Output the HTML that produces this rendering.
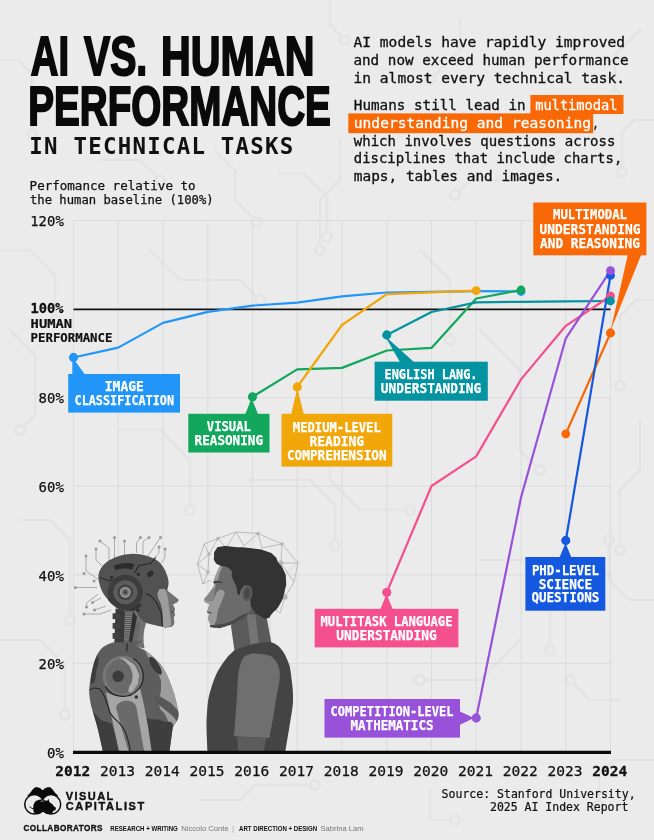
<!DOCTYPE html>
<html lang="en"><head><meta charset="utf-8"><title>AI vs. Human Performance in Technical Tasks</title>
<style>
html,body{margin:0;padding:0;background:#ebebeb;}
body{width:654px;height:840px;overflow:hidden;}
svg{display:block;}
.mono{font-family:"DejaVu Sans Mono","Liberation Mono",monospace;}
.sans{font-family:"Liberation Sans","DejaVu Sans",sans-serif;}
.lab{font-family:"DejaVu Sans Mono","Liberation Mono",monospace;font-weight:bold;fill:#fff;stroke:#fff;stroke-width:0.25px;text-anchor:middle;}
</style></head><body>
<svg width="654" height="840" viewBox="0 0 654 840">
<rect width="654" height="840" fill="#ebebeb"/>

<g id="bg-circuits" stroke="#e4e4e4" stroke-width="2.6" fill="none" stroke-linecap="round" stroke-linejoin="round">
<path d="M278,174 L304,174 L327,197 L327,237"/>
<path d="M215,150 L235,170 L235,200 L257,222"/>
<path d="M340,140 L340,180 L320,200 L320,250"/>
<path d="M0,60 L18,60 L32,74 L32,134"/>
<path d="M0,250 L30,250 L55,275 L55,320"/>
<path d="M10,330 L35,355 L35,415 L20,430"/>
<path d="M654,120 L634,120 L622,132 L622,172"/>
<path d="M654,300 L636,300 L620,316 L620,386"/>
<path d="M640,420 L640,470 L620,490 L620,550"/>
<path d="M654,600 L629,600 L609,580 L609,540"/>
<path d="M620,700 L590,700 L570,680"/>
<path d="M654,760 L614,760 L599,775 L599,805"/>
<path d="M430,790 L430,820 L455,820"/>
<path d="M200,800 L240,800 L255,785 L315,785"/>
<path d="M150,250 L180,280 L240,280 L260,300"/>
<path d="M120,430 L160,430 L190,460 L190,510"/>
<path d="M20,520 L50,520 L70,540 L70,620"/>
<path d="M0,640 L40,640 L65,665 L65,715"/>
<path d="M330,420 L330,480 L360,510 L410,510"/>
<path d="M420,250 L450,280 L450,340"/>
<path d="M480,330 L520,370 L520,450 L540,470"/>
<path d="M250,480 L310,480 L335,505 L335,545"/>
<path d="M300,560 L270,590 L270,650 L290,670"/>
<path d="M480,560 L530,560 L550,580 L550,650"/>
<path d="M520,640 L480,680 L420,680"/>
<path d="M560,150 L530,180 L470,180 L455,195"/>
<path d="M460,20 L460,50 L430,80"/>
<path d="M640,30 L615,55 L615,95"/>
<path d="M330,0 L330,25 L345,40"/>
<path d="M100,160 L140,160 L160,180"/>
<circle cx="327" cy="237" r="4.6" fill="#ebebeb"/>
<circle cx="257" cy="222" r="4.6" fill="#ebebeb"/>
<circle cx="320" cy="250" r="4.6" fill="#ebebeb"/>
<circle cx="32" cy="134" r="4.6" fill="#ebebeb"/>
<circle cx="55" cy="320" r="4.6" fill="#ebebeb"/>
<circle cx="20" cy="430" r="4.6" fill="#ebebeb"/>
<circle cx="622" cy="172" r="4.6" fill="#ebebeb"/>
<circle cx="620" cy="386" r="4.6" fill="#ebebeb"/>
<circle cx="620" cy="550" r="4.6" fill="#ebebeb"/>
<circle cx="609" cy="540" r="4.6" fill="#ebebeb"/>
<circle cx="570" cy="680" r="4.6" fill="#ebebeb"/>
<circle cx="599" cy="805" r="4.6" fill="#ebebeb"/>
<circle cx="455" cy="820" r="4.6" fill="#ebebeb"/>
<circle cx="315" cy="785" r="4.6" fill="#ebebeb"/>
<circle cx="260" cy="300" r="4.6" fill="#ebebeb"/>
<circle cx="190" cy="510" r="4.6" fill="#ebebeb"/>
<circle cx="70" cy="620" r="4.6" fill="#ebebeb"/>
<circle cx="65" cy="715" r="4.6" fill="#ebebeb"/>
<circle cx="410" cy="510" r="4.6" fill="#ebebeb"/>
<circle cx="450" cy="340" r="4.6" fill="#ebebeb"/>
<circle cx="540" cy="470" r="4.6" fill="#ebebeb"/>
<circle cx="335" cy="545" r="4.6" fill="#ebebeb"/>
<circle cx="290" cy="670" r="4.6" fill="#ebebeb"/>
<circle cx="550" cy="650" r="4.6" fill="#ebebeb"/>
<circle cx="420" cy="680" r="4.6" fill="#ebebeb"/>
<circle cx="455" cy="195" r="4.6" fill="#ebebeb"/>
<circle cx="430" cy="80" r="4.6" fill="#ebebeb"/>
<circle cx="615" cy="95" r="4.6" fill="#ebebeb"/>
<circle cx="345" cy="40" r="4.6" fill="#ebebeb"/>
<circle cx="160" cy="180" r="4.6" fill="#ebebeb"/>
</g>
<g class="sans" font-weight="bold" fill="#0a0a0a" stroke="#0a0a0a" stroke-width="2" stroke-linejoin="miter">
<text x="30.8" y="74.5" font-size="55.2" textLength="38.2" lengthAdjust="spacingAndGlyphs">AI</text>
<text x="84" y="74.5" font-size="55.2" textLength="63.2" lengthAdjust="spacingAndGlyphs">VS.</text>
<text x="161" y="74.5" font-size="55.2" textLength="153.5" lengthAdjust="spacingAndGlyphs">HUMAN</text>
<text x="28.2" y="124.9" font-size="55.2" textLength="302.7" lengthAdjust="spacingAndGlyphs">PERFORMANCE</text>
</g>
<text x="29.3" y="153.7" font-family="DejaVu Sans Mono,Liberation Mono,monospace" font-size="22.4" font-weight="bold" fill="#111" textLength="264" lengthAdjust="spacing">IN TECHNICAL TASKS</text>
<g class="mono" font-size="11.9" fill="#111" stroke="#111" stroke-width="0.25">
<text x="29.6" y="189.5" textLength="166" lengthAdjust="spacingAndGlyphs">Perfomance relative to</text>
<text x="30" y="203.8" textLength="183.6" lengthAdjust="spacingAndGlyphs">the human baseline (100%)</text>
</g>
<rect x="530.4" y="95" width="93.1" height="19" fill="#f86806"/>
<rect x="348.3" y="113.4" width="244.9" height="19.8" fill="#f86806"/>
<g class="mono" font-size="13.6" fill="#111" stroke="#111" stroke-width="0.3">
<text x="353.6" y="47.3" textLength="271.5" lengthAdjust="spacingAndGlyphs">AI models have rapidly improved</text>
<text x="353.4" y="65.3" textLength="275.2" lengthAdjust="spacingAndGlyphs">and now exceed human performance</text>
<text x="353.6" y="83.3" textLength="271.5" lengthAdjust="spacingAndGlyphs">in almost every technical task.</text>
<text x="353.8" y="110.2" textLength="171.9" lengthAdjust="spacingAndGlyphs">Humans still lead in</text>
<text x="535.2" y="110.2" fill="#fff" stroke="#fff" textLength="82.3" lengthAdjust="spacingAndGlyphs">multimodal</text>
<text x="353.8" y="127.8" fill="#fff" stroke="#fff" textLength="237.2" lengthAdjust="spacingAndGlyphs">understanding and reasoning</text>
<text x="592.5" y="127.8" textLength="6" lengthAdjust="spacingAndGlyphs">,</text>
<text x="353.8" y="145.8" textLength="261.6" lengthAdjust="spacingAndGlyphs">which involves questions across</text>
<text x="353.8" y="163.4" textLength="268.5" lengthAdjust="spacingAndGlyphs">disciplines that include charts,</text>
<text x="353.8" y="181.3" textLength="208.5" lengthAdjust="spacingAndGlyphs">maps, tables and images.</text>
</g>
<g stroke="#d8d8d8" stroke-width="0.8" fill="none">
<line x1="73.5" y1="220.5" x2="73.5" y2="752.0"/>
<line x1="118.2" y1="220.5" x2="118.2" y2="752.0"/>
<line x1="163.0" y1="220.5" x2="163.0" y2="752.0"/>
<line x1="207.8" y1="220.5" x2="207.8" y2="752.0"/>
<line x1="252.5" y1="220.5" x2="252.5" y2="752.0"/>
<line x1="297.2" y1="220.5" x2="297.2" y2="752.0"/>
<line x1="342.0" y1="220.5" x2="342.0" y2="752.0"/>
<line x1="386.8" y1="220.5" x2="386.8" y2="752.0"/>
<line x1="431.5" y1="220.5" x2="431.5" y2="752.0"/>
<line x1="476.2" y1="220.5" x2="476.2" y2="752.0"/>
<line x1="521.0" y1="220.5" x2="521.0" y2="752.0"/>
<line x1="565.8" y1="220.5" x2="565.8" y2="752.0"/>
<line x1="610.5" y1="220.5" x2="610.5" y2="752.0"/>
<line x1="73.5" y1="663.4" x2="610.5" y2="663.4"/>
<line x1="73.5" y1="574.8" x2="610.5" y2="574.8"/>
<line x1="73.5" y1="486.2" x2="610.5" y2="486.2"/>
<line x1="73.5" y1="397.7" x2="610.5" y2="397.7"/>
<line x1="73.5" y1="220.5" x2="610.5" y2="220.5"/>
</g>
<g id="figures">
<g stroke="#9a9a9a" stroke-width="0.8" fill="none">
<path d="M114.5,560 V537.5 M124.5,556 V541 M136.5,553 V543 L140.5,537.5 M143,554 V541.5 L149,537.5 M148,556 L160.5,537.5 M153,559 L159,553 V547 M161,563 L165,558 V549"/>
<path d="M109,562 V548 L100,541 M102,566 L96,560 V549 M99,580 L86,571 V556 M97,587.5 L75.5,587.5 M98,594 L86.5,603 V607 M101,598 L92.5,602.5 M106,606 L94.5,610 M111,610 L100,614 H84"/>
</g>
<g fill="#9a9a9a">
<circle cx="114.5" cy="537.5" r="1.5"/><circle cx="124.5" cy="541" r="1.5"/><circle cx="140.5" cy="537.5" r="1.5"/><circle cx="149" cy="537.5" r="1.5"/><circle cx="160.5" cy="537.5" r="1.5"/><circle cx="159" cy="547" r="1.5"/><circle cx="165" cy="549" r="1.5"/>
<circle cx="100" cy="541" r="1.5"/><circle cx="96" cy="549" r="1.5"/><circle cx="86" cy="556" r="1.5"/><circle cx="75.5" cy="587.5" r="1.5"/><circle cx="86.5" cy="607" r="1.5"/><circle cx="92.5" cy="602.5" r="1.5"/><circle cx="94.5" cy="610" r="1.5"/><circle cx="84" cy="614" r="1.5"/><circle cx="84" cy="573.5" r="1.5"/><circle cx="94" cy="581" r="1.5"/>
</g>
<path d="M115.6,608.5 L136.3,611.3 L136.3,616.8 L131.1,643.6 L114.3,643.6 Z" fill="#3a3a3a" />
<path d="M112.6,613.3 L120.5,613.3 L120.5,619.1 L112.6,619.1 Z" fill="#3f3f3f" />
<path d="M112.6,623.0 L120.5,623.0 L120.5,628.8 L112.6,628.8 Z" fill="#3f3f3f" />
<path d="M112.6,633.0 L120.5,633.0 L120.5,638.8 L112.6,638.8 Z" fill="#3f3f3f" />
<path d="M125.0,610.6 L133.0,611.3 L131.1,642.2 L124.2,641.6 Z" fill="#8e8e8e" />
<path d="M124.7,612.0 L132.7,612.0 M124.7,613.9 L132.6,613.9 M124.7,615.8 L132.5,615.8 M124.7,617.8 L132.3,617.8 M124.7,619.7 L132.2,619.7 M124.7,621.6 L132.1,621.6 M124.7,623.5 L132.0,623.5 M124.7,625.5 L131.8,625.5 M124.7,627.4 L131.7,627.4 M124.7,629.3 L131.6,629.3 M124.7,631.2 L131.5,631.2 M124.7,633.2 L131.3,633.2 M124.7,635.1 L131.2,635.1 M124.7,637.0 L131.1,637.0 M124.7,638.9 L131.0,638.9 M124.7,640.9 L130.8,640.9 " stroke="#4a4a4a" stroke-width="1" fill="none"/>
<path d="M132.2,608.5 L140.4,609.2 L146.2,623.0 Q141.8,634.7 144.5,648.4 L130.5,645.4 Z" fill="#727272" />
<path d="M135.2,622.3 L140.4,622.8 M135.0,624.1 L140.1,624.6 M134.7,625.9 L139.8,626.4 M134.5,627.7 L139.5,628.2 M134.3,629.4 L139.2,630.0 M134.1,631.2 L138.9,631.8 M133.9,633.0 L138.6,633.6 M133.6,634.8 L138.3,635.4 M133.4,636.6 L138.0,637.2 M133.2,638.4 L137.7,638.9 M133.0,640.2 L137.4,640.7 M132.8,642.0 L137.1,642.5 " stroke="#5a5a5a" stroke-width="0.8" fill="none"/>
<path d="M133.0,611.0 L137.0,616.8 L131.9,643.6 L128.7,643.6 Z" fill="#2f2f2f" />
<path d="M130.6,553.9 C141,553.5 152,556.5 158.5,561.5 C163,565.5 166.5,572 168,578.5 C168.8,582 168.6,584 168.3,586 C167.6,588 167.2,589.5 167.6,591 L178.3,599.6 C178.8,601.5 176,603.2 172.7,604.4 C173.5,606 174.6,607.6 174.8,609.2 C174.6,610.5 174,611.3 173.4,612 C174.3,612.8 174.8,613.7 174.8,614.7 C174.5,616 173.6,617 173.4,618.2 C174,619.8 174.5,621.4 174.1,623 C173.5,625.5 172,626.8 170,627.1 C167.5,627.3 165,627 162.4,626.7 C159.6,626.4 157,625.8 154.2,625 C151.4,624.4 148.5,623.7 145.9,622.7 C143,621.3 140.5,619.2 139,616.8 C137.8,615 137,613.2 136.3,611.3 L126.7,611.5 C122.5,610.8 118.8,609.2 115.6,607.2 C113.5,605.6 111.6,603.6 110.1,601.7 C107.4,599.2 105.2,596.4 103.3,593.4 C101.4,590 100,586.3 99.1,582.4 C98.5,580 98.3,577.7 98.4,575.5 C98.8,570.5 101.8,566 106.7,562 C110,559.5 113.6,557.8 117.7,556.4 C121.7,555 126,554.1 130.6,553.9 Z" fill="#525252" />
<path d="M108.1,599.6 C109.4,602.1 110.6,603.6 117.0,607.2 C123.4,610.7 120.9,609.5 127.3,610.2 C133.8,610.9 131.9,611.4 136.3,609.2 C140.6,607.1 143.6,604.6 140.4,603.7 C137.2,602.8 135.8,607.8 126.6,606.5 C117.5,605.1 119.1,601.9 112.9,599.6 C106.7,597.3 106.7,597.1 108.1,599.6 Z" fill="#343434" />
<path d="M167.6,591 L178.3,599.6 C178.8,601.5 176,603.2 172.7,604.4 C173.5,606 174.6,607.6 174.8,609.2 C174.6,610.5 174,611.3 173.4,612 C174.3,612.8 174.8,613.7 174.8,614.7 C174.5,616 173.6,617 173.4,618.2 C174,619.8 174.5,621.4 174.1,623 C173.5,625.5 172,626.8 170,627.1 C167.5,627.3 165,627 162.6,626.7 C162.9,620 162.6,612 161.6,605.8 C160.8,601 158.6,596.5 158,592.6 C158.5,590.2 161,589 164,589 C165.5,589.2 166.8,590 167.6,591 Z" fill="#727272" />
<path d="M158.6,590.9 C159.8,588.3 159.4,589.1 161.7,589.0 C164.0,588.9 163.5,587.8 165.5,590.6 C167.4,593.5 166.5,592.0 167.7,597.5 C168.8,603.0 168.1,600.7 169.0,607.2 C170.0,613.6 169.8,611.3 170.4,616.8 C171.1,622.3 171.6,620.5 171.0,623.7 C170.4,626.9 171.1,625.5 168.6,626.4 C166.1,627.3 165.4,630.1 163.5,626.4 C161.6,622.7 163.8,622.5 163.0,615.4 C162.2,608.3 162.7,611.3 161.1,605.1 C159.4,598.9 158.9,601.6 158.0,596.8 C157.2,592.1 157.3,593.5 158.6,590.9 Z" fill="#9d9d9d" />
<path d="M171.2,612.3 L174.5,611.6" stroke="#333" stroke-width="0.9" fill="none"/>
<path d="M99.6,577.3 L109.5,581 L112.5,579.5 M134.5,573 L139,565.5 L150.5,563.5 L156,557.5 M145.5,593.5 C150,595 153,597 155,600.5 C158.5,606 161.5,611 161.5,615.5 C162,620 162.3,623.5 162.6,626.5" stroke="#262626" stroke-width="1.1" fill="none"/>
<path d="M113.5,566.3 C118,562.8 128,561.8 134.5,564.3 L132,569.8 C126,567.8 120,568.3 115.5,570.3 Z" fill="#2c2c2c" />
<rect x="146.8" y="571.3" width="7" height="5" rx="2.2" transform="rotate(-40 150.3 573.8)" fill="#2c2c2c"/>
<circle cx="138.3" cy="574.3" r="1.7" fill="#2c2c2c"/><circle cx="111.7" cy="577.3" r="1.6" fill="#2c2c2c"/><circle cx="138" cy="610.3" r="1.7" fill="#2c2c2c"/>
<circle cx="125.3" cy="592.3" r="17.5" fill="#3c3c3c"/>
<circle cx="125.3" cy="592.3" r="12" fill="#5c5c5c"/>
<circle cx="125.3" cy="592.3" r="7.8" fill="#404040"/>
<circle cx="125.3" cy="592.3" r="5.6" fill="#8e8e8e"/>
<circle cx="125.3" cy="592.3" r="3.3" fill="#6a6a6a"/>
<circle cx="125.3" cy="592.3" r="1.7" fill="#444"/>
<clipPath id="rb"><path d="M112.5,642.4 C110.9,643.2 105.5,644.9 102.9,647.2 C100.2,649.5 98.2,652.4 96.4,656.1 C94.7,659.7 93.5,664.6 92.4,668.9 C91.4,673.2 90.6,677.7 90.0,681.7 C89.5,685.8 89.1,689.2 89.2,693.0 C89.4,696.7 90.0,700.5 90.8,704.2 C91.6,708.0 92.8,711.2 94.0,715.5 C95.2,719.7 96.6,724.0 98.1,729.9 C99.5,735.8 102.1,747.6 102.9,751.1 L169.5,751.1 L172.7,727.5 C173.6,725.8 177.7,720.9 178.3,717.1 C179.0,713.2 177.7,708.8 176.7,704.2 C175.8,699.7 174.6,695.1 172.7,689.8 C170.8,684.4 168.0,676.9 165.5,672.1 C162.9,667.3 160.7,664.3 157.5,660.9 C154.2,657.4 149.7,653.8 146.2,651.2 C142.7,648.7 137.1,647.3 136.6,645.6 C136.0,644.0 141.9,642.0 143.0,641.3 Z"/></clipPath>
<path d="M112.5,642.4 C110.9,643.2 105.5,644.9 102.9,647.2 C100.2,649.5 98.2,652.4 96.4,656.1 C94.7,659.7 93.5,664.6 92.4,668.9 C91.4,673.2 90.6,677.7 90.0,681.7 C89.5,685.8 89.1,689.2 89.2,693.0 C89.4,696.7 90.0,700.5 90.8,704.2 C91.6,708.0 92.8,711.2 94.0,715.5 C95.2,719.7 96.6,724.0 98.1,729.9 C99.5,735.8 102.1,747.6 102.9,751.1 L169.5,751.1 L172.7,727.5 C173.6,725.8 177.7,720.9 178.3,717.1 C179.0,713.2 177.7,708.8 176.7,704.2 C175.8,699.7 174.6,695.1 172.7,689.8 C170.8,684.4 168.0,676.9 165.5,672.1 C162.9,667.3 160.7,664.3 157.5,660.9 C154.2,657.4 149.7,653.8 146.2,651.2 C142.7,648.7 137.1,647.3 136.6,645.6 C136.0,644.0 141.9,642.0 143.0,641.3 Z" fill="#5d5d5d" />
<g clip-path="url(#rb)">
<path d="M146.2,649.6 C148.4,648.8 150.8,652.8 157.5,660.1 C164.1,667.3 160.9,661.7 166.3,671.3 C171.6,680.9 169.5,678.0 173.5,689.0 C177.5,699.9 176.2,694.6 178.3,704.2 C180.5,713.8 181.5,709.3 179.9,717.9 C178.3,726.4 178.3,730.7 173.5,729.9 C168.7,729.1 170.3,724.0 165.5,715.5 C160.7,706.9 160.6,713.3 159.1,704.2 C157.6,695.1 161.1,698.1 161.0,688.2 C160.9,678.3 162.1,683.1 158.7,674.5 C155.4,666.0 155.2,670.8 151.0,662.5 C146.9,654.2 144.1,650.4 146.2,649.6 Z" fill="#9d9d9d" />
<path d="M156.2,696.5 C158.8,695.4 159.2,696.1 165.5,699.7 C171.8,703.4 170.2,702.2 175.1,707.4 C180.0,712.7 178.9,710.1 180.3,715.5 C181.6,720.8 182.1,723.5 179.3,723.5 C176.5,723.5 177.6,720.8 171.9,715.5 C166.2,710.1 167.1,711.6 162.3,707.4 C157.5,703.3 159.5,706.6 157.5,702.9 C155.4,699.3 153.5,697.6 156.2,696.5 Z" fill="#585858" />
<ellipse cx="155.4" cy="665.7" rx="3.6" ry="10.5" transform="rotate(-33 155.4 665.7)" fill="#3a3a3a"/>
<path d="M96.1,658.0 C98.2,654.9 98.6,655.4 98.7,659.6 C98.8,663.8 97.8,663.4 96.4,670.5 C95.1,677.6 96.3,677.3 94.5,680.9 C92.7,684.6 91.6,685.4 91.0,681.4 C90.3,677.4 90.9,676.7 92.6,668.9 C94.3,661.1 94.1,661.1 96.1,658.0 Z" fill="#3c3c3c" />
<path d="M91.6,710.6 L101.3,720.3 L111.7,723.5 L120.5,752.4 L99.7,752.4 Z" fill="#3e3e3e" />
<path d="M145.9,721.1 C147.5,715.5 147.2,719.5 152.6,719.5 C158.1,719.5 155.0,718.2 162.3,721.1 C169.5,723.9 171.1,717.5 174.3,728.0 C177.5,738.4 179.9,744.2 171.9,752.4 C163.9,760.5 158.3,757.7 150.2,752.4 C142.2,747.0 149.3,746.8 147.8,736.3 C146.4,725.9 144.3,726.7 145.9,721.1 Z" fill="#3e3e3e" />
<path d="M105.8,692.2 L114.1,695.4 L130.2,696.2 L140.1,688.2 L143.8,704.2 L148.1,726.7 L151.8,752.4 L119.2,752.4 L111.2,715.5 Z" fill="#a6a6a6" />
<path d="M116.2,708.2 C116.5,698.6 135.8,697.8 136.6,708.2 L144.3,752.4 L128.9,752.4 L122.1,729.9 Z" fill="#6a6a6a" />
<path d="M89.4,690.1 C91.6,689.4 91.7,687.2 96.1,688.2 C100.5,689.1 98.7,687.1 102.5,693.0 C106.4,698.9 104.6,698.4 107.7,705.8 C110.7,713.2 106.9,708.2 111.7,715.1 C116.5,722.1 116.8,718.6 122.1,726.7 C127.5,734.8 125.0,731.0 127.8,739.5 C130.5,748.1 129.6,748.1 130.5,752.4 " stroke="#262626" stroke-width="1.1" fill="none"/>
</g>
<circle cx="122.9" cy="676.1" r="20.3" fill="#777"/>
<path d="M133.1,658.5 A20.3,20.3 0 1 1 105.4,686.3" stroke="#262626" stroke-width="1.3" fill="none"/>
<circle cx="122.9" cy="676.1" r="17.3" fill="#696969"/>
<path d="M120.2,658.0 C121.5,657.7 124.4,657.5 130.2,661.7 C135.9,665.8 134.6,664.3 137.4,670.5 C140.2,676.7 139.3,674.2 138.5,680.1 C137.7,686.0 137.8,684.1 135.0,688.2 C132.2,692.2 132.2,692.2 130.2,692.2 C128.1,692.2 128.2,692.2 128.9,688.2 C129.5,684.1 131.2,686.0 132.1,680.1 C132.9,674.2 133.4,676.4 131.4,670.5 C129.5,664.6 129.9,666.6 126.1,662.5 C122.4,658.3 118.9,658.2 120.2,658.0 Z" fill="#adadad" />
<circle cx="118.1" cy="676.3" r="5.8" fill="#3c3c3c"/>
<circle cx="136.3" cy="697.0" r="1.7" fill="#2c2c2c"/>
<path d="M127.3,643.5 L126.6,651.2" stroke="#262626" stroke-width="1.2"/>
<g stroke="#a8a8a8" stroke-width="0.7" fill="none">
<path d="M197.5,564 L204,544 L218,538.5 L236,532 L258,533.5 L282,544 L298,563 L294,582 L285,597 L280,613 L270,606"/>
<path d="M197.5,564 L209,554 L204,544 M209,554 L218,538.5 L226,548 L236,532 L244,546 L258,533.5 L262,548 L282,544 L281,563 L298,563 M281,563 L285,597 M294,582 L281,563 M197.5,564 L208,572 L209,554 M208,572 L203,584 L197.5,564 M203,584 L211,580"/>
</g>
<g fill="#b4b4b4"><circle cx="218" cy="538.5" r="1.8"/><circle cx="258" cy="533.5" r="1.8"/><circle cx="282" cy="544" r="1.8"/><circle cx="209" cy="554" r="1.8"/><circle cx="208" cy="572" r="1.8"/><circle cx="281" cy="563" r="2.4"/><circle cx="285" cy="597" r="2.6"/></g>
<path d="M230.9,625.6 L234.4,650.1 L272.2,647.0 L266.6,617.2 L256.2,601.2 L245.5,607.3 Z" fill="#5a5a5a" />
<path d="M246.7,614.2 L255.4,614.9 L259.2,647.0 L250.8,647.8 Z" fill="#747474" />
<path d="M220.2,565.2 L216.1,574.4 L213.7,581.0 L214.3,585.9 L209.5,592.8 L204.2,598.9 L204.8,601.9 L209.5,604.2 L208.5,607.3 L207.8,609.6 L207.2,611.9 L208.8,613.7 L208.8,615.7 L208.1,618.7 L209.5,622.6 L211.1,625.9 L214.1,627.5 L225.6,625.9 L239.3,619.8 L247.8,613.4 L256.2,601.2 L245.5,578.2 L231.7,566.0 Z" fill="#6b6b6b" />
<path d="M220.2,565.2 L216.1,574.4 L213.7,581.0 L214.3,585.9 L209.5,592.8 L204.2,598.9 L204.8,601.9 L209.5,604.2 L208.5,607.3 L207.8,609.6 L207.2,611.9 L208.8,613.7 L208.8,615.7 L208.1,618.7 L209.5,622.6 L211.1,625.9 L213.3,627.2 L216.4,619.5 L217.9,610.3 L221.8,601.2 L224.8,593.5 L223.3,590.2 L219.5,589.7 L216.4,592.8 L214.6,598.1 L214.1,592.0 L215.6,585.9 L217.9,579.8 L219.5,573.6 L222.5,566.8 Z" fill="#9b9b9b" />
<path d="M214.3,585.9 L209.5,592.8 L204.5,599.3 L207.2,600.9 L213.0,601.2 L214.6,598.1 L214.1,592.0 Z" fill="#858585" />
<path d="M214.0,581.6 C215.2,580.8 215.1,580.7 217.9,581.0 C220.8,581.3 222.5,581.8 222.5,582.5 C222.5,583.2 220.7,582.7 217.9,583.0 C215.2,583.3 215.6,583.9 214.3,583.4 C212.9,583.0 212.7,582.4 214.0,581.6 Z" fill="#444" />
<path d="M207.2,611.9 L211.5,613.1" stroke="#3a3a3a" stroke-width="0.9" fill="none"/>
<path d="M210.3,625.3 C209.5,626.3 209.0,627.4 214.1,627.8 C219.2,628.1 217.2,628.9 225.6,626.4 C234.0,623.9 232.0,624.5 239.3,620.3 C246.7,616.0 247.2,615.2 247.8,613.7 C248.3,612.2 247.2,613.0 240.9,615.8 C234.5,618.7 236.8,619.3 228.6,622.3 C220.5,625.2 222.5,623.7 216.4,624.7 C210.3,625.7 211.1,624.3 210.3,625.3 Z" fill="#484848" />
<path d="M214.1,556.8 C214.4,553.0 213.1,553.4 215.6,549.9 C218.2,546.5 215.4,547.4 221.8,546.4 C228.1,545.4 224.3,546.2 234.8,546.9 C245.2,547.5 242.4,546.9 253.1,548.4 C263.8,549.9 259.7,548.9 266.9,551.5 C274.0,554.0 270.7,552.5 274.5,556.1 C278.3,559.6 275.4,557.6 278.3,562.2 C281.3,566.8 280.8,564.0 283.4,569.8 C285.9,575.7 285.6,572.4 286.0,579.8 C286.3,587.1 286.5,583.8 284.4,592.0 C282.4,600.1 283.9,597.1 279.9,604.2 C275.8,611.4 276.5,608.7 272.2,613.4 C267.9,618.1 271.2,617.7 266.9,618.3 C262.5,618.9 263.7,617.9 259.2,615.2 C254.7,612.6 256.4,614.8 253.4,610.3 C250.5,605.9 250.9,607.8 250.4,601.9 C249.8,596.1 253.0,598.1 251.9,592.8 C250.8,587.4 250.1,587.6 247.0,585.9 C243.8,584.2 245.2,584.8 242.4,587.7 C239.6,590.7 240.7,595.4 238.6,594.7 C236.4,594.1 238.0,591.4 236.0,585.9 C233.9,580.4 234.5,583.8 232.5,578.2 C230.4,572.6 234.2,573.4 229.9,569.1 C225.5,564.7 224.5,567.8 219.5,565.2 C214.5,562.7 216.7,564.2 214.9,561.4 C213.1,558.6 213.9,560.6 214.1,556.8 Z" fill="#333" />
<ellipse cx="247.4" cy="593.2" rx="5" ry="8" fill="#585858" transform="rotate(6 247.4 593.2)"/>
<ellipse cx="247.1" cy="593.7" rx="2.6" ry="5.4" fill="#474747" transform="rotate(6 247.4 593.2)"/>
<path d="M235.0,649.7 C233.6,651.1 229.6,654.3 226.7,657.9 C223.8,661.6 220.0,667.1 217.5,671.7 C215.1,676.3 213.5,680.9 212.0,685.5 C210.5,690.0 209.2,694.5 208.3,699.2 C207.5,704.0 207.2,709.3 206.9,713.9 C206.6,718.5 206.4,720.6 206.5,726.7 C206.6,732.9 207.3,746.9 207.4,751.0 L285.4,751.0 C286.2,746.3 288.8,730.8 290.0,723.1 C291.2,715.4 292.3,710.2 292.8,704.7 C293.2,699.2 293.0,694.6 292.8,690.0 C292.5,685.5 291.9,681.5 291.3,677.2 C290.7,672.9 290.7,668.9 289.1,664.4 C287.5,659.8 284.8,653.3 281.7,649.7 C278.7,646.0 275.6,643.3 270.7,642.3 C265.8,641.4 255.4,643.9 252.4,644.2 Z" fill="#444" />
<path d="M252.4,653.3 C250.9,654.1 245.5,654.9 243.2,657.9 C240.9,661.0 239.6,666.3 238.6,671.7 C237.6,677.0 237.8,683.3 237.3,690.0 C236.9,696.8 236.4,704.4 235.9,712.1 C235.3,719.8 234.3,732.2 234.0,736.3 L269.3,738.1 C270.0,734.4 272.3,722.8 273.5,715.7 C274.7,708.6 275.6,701.4 276.6,695.6 C277.6,689.7 279.0,685.5 279.4,680.9 C279.8,676.3 280.4,672.2 279.0,668.0 C277.6,663.9 275.2,658.5 270.7,656.1 C266.3,653.7 255.4,653.8 252.4,653.3 Z" fill="#6f6f6f" />
<path d="M237.3,736.8 L266.1,738.1 L263.8,751.0 L238.1,751.0 Z" fill="#5c5c5c" />
</g>
<line x1="73.5" y1="309.4" x2="610.5" y2="309.4" stroke="#111" stroke-width="1.7"/>
<g class="mono" font-size="14" fill="#111" stroke="#111" stroke-width="0.25">
<text x="47.0" y="757.7" textLength="16.8" lengthAdjust="spacingAndGlyphs">0%</text>
<text x="38.6" y="669.1" textLength="25.2" lengthAdjust="spacingAndGlyphs">20%</text>
<text x="38.6" y="580.5" textLength="25.2" lengthAdjust="spacingAndGlyphs">40%</text>
<text x="38.6" y="491.9" textLength="25.2" lengthAdjust="spacingAndGlyphs">60%</text>
<text x="38.6" y="403.4" textLength="25.2" lengthAdjust="spacingAndGlyphs">80%</text>
<text x="30.2" y="226.2" textLength="33.6" lengthAdjust="spacingAndGlyphs">120%</text>
<text x="30.4" y="313.4" font-weight="bold" stroke-width="0.3" textLength="33" lengthAdjust="spacingAndGlyphs">100%</text>
</g>
<g font-family="DejaVu Sans Mono,Liberation Mono,monospace" font-weight="bold" font-size="12" fill="#111" stroke="#111" stroke-width="0.2">
<text x="30.6" y="328.1" textLength="41.5" lengthAdjust="spacingAndGlyphs">HUMAN</text>
<text x="30.6" y="342.1" textLength="81.8" lengthAdjust="spacingAndGlyphs">PERFORMANCE</text>
</g>
<polyline points="73.5,357.5 118.2,347.6 163.0,322.9 207.8,311.9 252.5,305.6 297.2,302.7 342.0,296.3 386.8,292.5 431.5,291.8 476.2,291.2 521.0,291.5" fill="none" stroke="#2196f8" stroke-width="2.2" stroke-linejoin="round" stroke-linecap="round"/>
<polyline points="252.5,396.8 297.2,369.4 342.0,367.9 386.8,350.5 431.5,347.9 476.2,298.5 521.0,290.0" fill="none" stroke="#12a75d" stroke-width="2.2" stroke-linejoin="round" stroke-linecap="round"/>
<polyline points="297.2,387.0 342.0,325.0 386.8,294.2 431.5,292.3 476.2,290.7" fill="none" stroke="#f1a60a" stroke-width="2.2" stroke-linejoin="round" stroke-linecap="round"/>
<polyline points="386.8,335.0 431.5,312.0 476.2,302.4 521.0,301.8 565.8,301.4 610.5,301.0" fill="none" stroke="#0493a0" stroke-width="2.2" stroke-linejoin="round" stroke-linecap="round"/>
<polyline points="386.8,592.3 431.5,486.0 476.2,456.4 521.0,379.4 565.8,325.8 610.5,296.0" fill="none" stroke="#f4508e" stroke-width="2.2" stroke-linejoin="round" stroke-linecap="round"/>
<polyline points="565.8,433.8 610.5,333.0" fill="none" stroke="#f86806" stroke-width="2.2" stroke-linejoin="round" stroke-linecap="round"/>
<polyline points="476.2,718.0 521.0,497.5 565.8,338.3 610.5,270.7" fill="none" stroke="#9752d9" stroke-width="2.2" stroke-linejoin="round" stroke-linecap="round"/>
<polyline points="565.8,540.5 610.5,275.4" fill="none" stroke="#1358de" stroke-width="2.2" stroke-linejoin="round" stroke-linecap="round"/>
<circle cx="73.5" cy="357.5" r="4.4" fill="#2196f8"/>
<circle cx="521.0" cy="291.5" r="4.4" fill="#2196f8"/>
<circle cx="297.2" cy="387.0" r="4.4" fill="#f1a60a"/>
<circle cx="476.2" cy="290.7" r="4.4" fill="#f1a60a"/>
<circle cx="252.5" cy="396.8" r="4.4" fill="#12a75d"/>
<circle cx="521.0" cy="290.0" r="4.4" fill="#12a75d"/>
<circle cx="386.8" cy="335.0" r="4.4" fill="#0493a0"/>
<circle cx="386.8" cy="592.3" r="4.4" fill="#f4508e"/>
<circle cx="610.5" cy="296.0" r="4.4" fill="#f4508e"/>
<circle cx="610.5" cy="301.0" r="4.4" fill="#0493a0"/>
<circle cx="565.8" cy="433.8" r="4.4" fill="#f86806"/>
<circle cx="610.5" cy="333.0" r="4.4" fill="#f86806"/>
<circle cx="565.8" cy="540.5" r="4.4" fill="#1358de"/>
<circle cx="610.5" cy="275.4" r="4.4" fill="#1358de"/>
<circle cx="476.2" cy="718.0" r="4.4" fill="#9752d9"/>
<circle cx="610.5" cy="270.7" r="4.4" fill="#9752d9"/>
<polygon points="72.3,357 72.3,376 86,376" fill="#2196f8"/>
<rect x="68.2" y="374" width="111.8" height="38.6" fill="#2196f8"/>
<text class="lab" x="124.3" y="391.3" font-size="13.8" textLength="39" lengthAdjust="spacingAndGlyphs">IMAGE</text>
<text class="lab" x="124.3" y="404.8" font-size="13.8" textLength="99.5" lengthAdjust="spacingAndGlyphs">CLASSIFICATION</text>
<polygon points="251.6,398 245,415 258.3,415" fill="#12a75d"/>
<rect x="188.3" y="413.8" width="81.2" height="38.7" fill="#12a75d"/>
<text class="lab" x="228.8" y="430.8" font-size="13.8" textLength="44" lengthAdjust="spacingAndGlyphs">VISUAL</text>
<text class="lab" x="228.8" y="445" font-size="13.8" textLength="68.5" lengthAdjust="spacingAndGlyphs">REASONING</text>
<polygon points="297.3,388 291,415 304,415" fill="#f1a60a"/>
<rect x="281.5" y="413.8" width="110.8" height="52.8" fill="#f1a60a"/>
<text class="lab" x="336.8" y="431.5" font-size="13.8" textLength="88" lengthAdjust="spacingAndGlyphs">MEDIUM-LEVEL</text>
<text class="lab" x="336.8" y="445.7" font-size="13.8" textLength="54.5" lengthAdjust="spacingAndGlyphs">READING</text>
<text class="lab" x="336.8" y="459.8" font-size="13.8" textLength="99.8" lengthAdjust="spacingAndGlyphs">COMPREHENSION</text>
<polygon points="385,336 400.5,363 415,363" fill="#0493a0"/>
<rect x="374.6" y="361.7" width="113.2" height="39.0" fill="#0493a0"/>
<text class="lab" x="431" y="378.8" font-size="13.8" textLength="93" lengthAdjust="spacingAndGlyphs">ENGLISH LANG.</text>
<text class="lab" x="431" y="392.8" font-size="13.8" textLength="100.5" lengthAdjust="spacingAndGlyphs">UNDERSTANDING</text>
<polygon points="628,254 641.5,254 610.5,331" fill="#f86806"/>
<rect x="533.3" y="202.5" width="113.1" height="52.8" fill="#f86806"/>
<text class="lab" x="590" y="219.3" font-size="13.8" textLength="74" lengthAdjust="spacingAndGlyphs">MULTIMODAL</text>
<text class="lab" x="590" y="233.6" font-size="13.8" textLength="101" lengthAdjust="spacingAndGlyphs">UNDERSTANDING</text>
<text class="lab" x="590" y="247.9" font-size="13.8" textLength="100" lengthAdjust="spacingAndGlyphs">AND REASONING</text>
<polygon points="386.5,594 380,610 393,610" fill="#f4508e"/>
<rect x="314.7" y="608.8" width="143.7" height="38.6" fill="#f4508e"/>
<text class="lab" x="386.5" y="626.2" font-size="13.8" textLength="132" lengthAdjust="spacingAndGlyphs">MULTITASK LANGUAGE</text>
<text class="lab" x="386.5" y="639.8" font-size="13.8" textLength="100.5" lengthAdjust="spacingAndGlyphs">UNDERSTANDING</text>
<polygon points="474,718 459,711 459,725.3" fill="#9752d9"/>
<rect x="324.5" y="699" width="135.5" height="38.6" fill="#9752d9"/>
<text class="lab" x="392" y="716.4" font-size="13.8" textLength="123" lengthAdjust="spacingAndGlyphs">COMPETITION-LEVEL</text>
<text class="lab" x="392" y="730.2" font-size="13.8" textLength="83" lengthAdjust="spacingAndGlyphs">MATHEMATICS</text>
<polygon points="565.5,543 559.3,558 571.6,558" fill="#1358de"/>
<rect x="525.4" y="557" width="79.9" height="53.7" fill="#1358de"/>
<text class="lab" x="565.4" y="574.8" font-size="13.8" textLength="67" lengthAdjust="spacingAndGlyphs">PHD-LEVEL</text>
<text class="lab" x="565.4" y="588.6" font-size="13.8" textLength="53.5" lengthAdjust="spacingAndGlyphs">SCIENCE</text>
<text class="lab" x="565.4" y="602.4" font-size="13.8" textLength="68" lengthAdjust="spacingAndGlyphs">QUESTIONS</text>
<circle cx="73.5" cy="357.5" r="4.4" fill="#2196f8"/>
<circle cx="252.5" cy="396.8" r="4.4" fill="#12a75d"/>
<circle cx="297.2" cy="387.0" r="4.4" fill="#f1a60a"/>
<circle cx="386.8" cy="335.0" r="4.4" fill="#0493a0"/>
<circle cx="386.8" cy="592.3" r="4.4" fill="#f4508e"/>
<circle cx="476.2" cy="718.0" r="4.4" fill="#9752d9"/>
<circle cx="565.8" cy="540.5" r="4.4" fill="#1358de"/>
<circle cx="610.5" cy="333.0" r="4.4" fill="#f86806"/>
<line x1="73.0" y1="752.4" x2="611.0" y2="752.4" stroke="#0a0a0a" stroke-width="3.2"/>
<g class="mono" font-size="14.8" fill="#111" stroke="#111" stroke-width="0.25">
<text x="55.3" y="775.8" font-weight="bold" stroke-width="0.3" textLength="35" lengthAdjust="spacingAndGlyphs">2012</text>
<text x="100.0" y="775.8" textLength="35" lengthAdjust="spacingAndGlyphs">2013</text>
<text x="144.8" y="775.8" textLength="35" lengthAdjust="spacingAndGlyphs">2014</text>
<text x="189.6" y="775.8" textLength="35" lengthAdjust="spacingAndGlyphs">2015</text>
<text x="234.3" y="775.8" textLength="35" lengthAdjust="spacingAndGlyphs">2016</text>
<text x="279.1" y="775.8" textLength="35" lengthAdjust="spacingAndGlyphs">2017</text>
<text x="323.8" y="775.8" textLength="35" lengthAdjust="spacingAndGlyphs">2018</text>
<text x="368.6" y="775.8" textLength="35" lengthAdjust="spacingAndGlyphs">2019</text>
<text x="413.3" y="775.8" textLength="35" lengthAdjust="spacingAndGlyphs">2020</text>
<text x="458.1" y="775.8" textLength="35" lengthAdjust="spacingAndGlyphs">2021</text>
<text x="502.8" y="775.8" textLength="35" lengthAdjust="spacingAndGlyphs">2022</text>
<text x="547.5" y="775.8" textLength="35" lengthAdjust="spacingAndGlyphs">2023</text>
<text x="592.3" y="775.8" font-weight="bold" stroke-width="0.3" textLength="35" lengthAdjust="spacingAndGlyphs">2024</text>
</g>
<g class="mono" font-size="11.6" fill="#111" stroke="#111" stroke-width="0.2">
<text x="441.6" y="798.3" textLength="194" lengthAdjust="spacingAndGlyphs">Source: Stanford University,</text>
<text x="490" y="811.3" textLength="138.3" lengthAdjust="spacingAndGlyphs">2025 AI Index Report</text>
</g>
<g id="vc-logo">
<circle cx="34.4" cy="804.3" r="9.7" fill="none" stroke="#0a0a0a" stroke-width="1.5"/>
<circle cx="51.0" cy="804.3" r="9.7" fill="none" stroke="#0a0a0a" stroke-width="1.5"/>
<path d="M27.8,795.9 C26.7,795.4 28.7,794.7 30.2,792.7 C31.8,790.7 32.0,790.0 33.7,788.5 C35.3,787.0 34.7,787.3 36.3,787.2 C38.0,787.1 38.1,787.2 39.8,788.0 C41.5,788.7 41.1,790.0 42.6,790.0 C44.1,790.0 43.8,788.7 45.5,788.0 C47.2,787.2 47.3,787.1 49.0,787.2 C50.6,787.3 50.0,787.0 51.6,788.5 C53.3,790.0 53.4,790.7 55.1,792.7 C56.7,794.7 58.9,795.4 57.8,795.9 C56.6,796.4 53.9,794.6 50.9,794.6 C47.8,794.7 48.4,795.0 46.3,796.1 C44.1,797.3 44.7,799.0 42.8,799.0 C41.0,799.0 41.6,797.3 39.4,796.1 C37.2,795.0 37.5,794.7 34.4,794.6 C31.3,794.6 28.9,796.4 27.8,795.9 Z" fill="#0a0a0a"/>
<path d="M33.3,807.2 C33.6,804.9 33.1,805.1 34.4,803.0 C35.8,801.0 35.2,801.3 37.9,800.3 C40.5,799.4 40.6,799.6 43.2,799.7 C45.9,799.9 45.1,800.9 46.7,800.7 C48.3,800.6 47.7,798.9 48.6,799.3 C49.4,799.7 48.4,800.6 49.5,802.0 C50.6,803.5 51.0,802.8 52.4,804.2 C53.8,805.5 53.1,805.7 54.1,806.6 C55.0,807.6 55.2,806.4 55.6,807.4 C56.0,808.4 56.0,809.0 55.3,810.0 C54.7,811.0 54.3,810.0 53.5,810.7 C52.6,811.5 53.5,811.5 52.6,812.4 C51.7,813.3 51.8,813.3 50.5,813.8 C49.2,814.3 49.9,814.3 48.2,814.1 C46.5,813.9 46.4,813.6 44.8,813.0 C43.2,812.4 44.0,812.1 42.8,812.1 C41.7,812.2 42.4,812.6 40.9,813.2 C39.4,813.8 39.7,814.2 37.9,814.3 C36.0,814.3 36.1,814.4 34.8,813.3 C33.5,812.3 34.0,812.5 33.5,810.7 C33.1,808.8 33.0,809.5 33.3,807.2 Z" fill="#0a0a0a"/>
<path d="M33.3,808.4 q-1.6,0.6 -2.2,-0.6 q-0.4,-1.2 -1.6,-0.8" stroke="#0a0a0a" stroke-width="0.9" fill="none"/>
<path d="M40.6,801.3 q2,-0.6 3.8,-0.1" stroke="#c4c4c4" stroke-width="0.7" fill="none"/>
</g>
<g class="sans" font-weight="bold" fill="#111">
<text x="65.8" y="800.4" font-size="11" textLength="47.5" lengthAdjust="spacing" stroke="#111" stroke-width="0.4">VISUAL</text>
<text x="65.8" y="810.3" font-size="11" textLength="78.5" lengthAdjust="spacing" stroke="#111" stroke-width="0.4">CAPITALIST</text>
<text x="23.5" y="831.2" font-size="8.2" textLength="79" lengthAdjust="spacing" stroke="#111" stroke-width="0.3">COLLABORATORS</text>
<text x="110.3" y="831.2" font-size="8" textLength="67.5" lengthAdjust="spacingAndGlyphs">RESEARCH + WRITING</text>
<text x="239" y="831.2" font-size="8" textLength="78.2" lengthAdjust="spacingAndGlyphs">ART DIRECTION + DESIGN</text>
</g>
<g class="sans" fill="#777" font-size="8">
<text x="181.2" y="831.2" textLength="47.5" lengthAdjust="spacingAndGlyphs">Niccolo Conte</text>
<text x="232" y="831" fill="#aaa">|</text>
<text x="320.5" y="831.2" textLength="43" lengthAdjust="spacingAndGlyphs">Sabrina Lam</text>
</g>
</svg></body></html>
